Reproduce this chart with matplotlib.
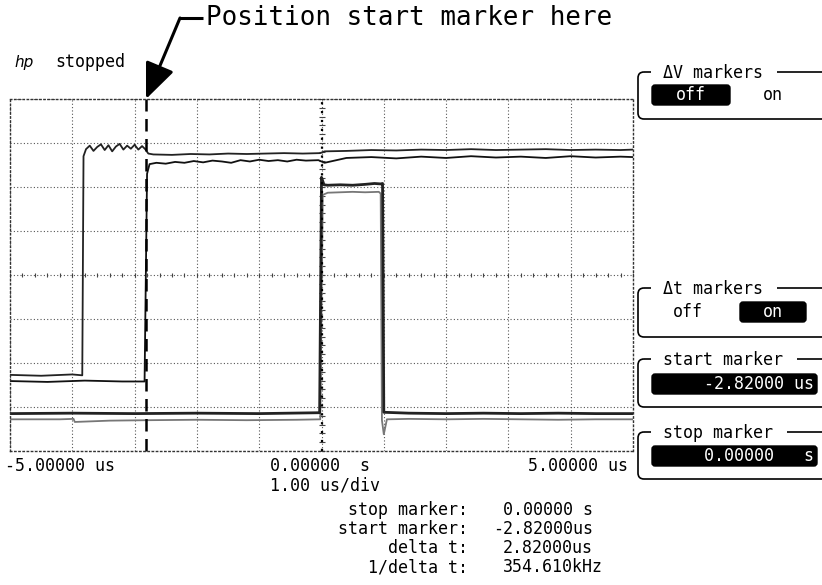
import matplotlib
matplotlib.use("Agg")
import matplotlib.pyplot as plt
import numpy as np
from matplotlib.patches import FancyBboxPatch, FancyArrowPatch

# traces: time in us, level in divisions from centre
ch1_t = [-5.00, -4.50, -4.00, -3.84, -3.82, -3.78, -3.72, -3.66, -3.60, -3.54,
         -3.48, -3.42, -3.36, -3.30, -3.24, -3.18, -3.12, -3.06, -3.00, -2.94,
         -2.88, -2.83, -2.78, -2.70, -2.40, -2.10, -1.80, -1.50, -1.20, -0.90,
         -0.60, -0.30, -0.02, 0.05, 0.40, 0.80, 1.20, 1.60, 2.00, 2.40,
         2.80, 3.20, 3.60, 4.00, 4.40, 4.80, 5.00]
ch1_v = [-2.27, -2.29, -2.26, -2.28, 2.70, 2.86, 2.94, 2.82, 2.91, 2.97,
         2.84, 2.95, 2.81, 2.92, 2.98, 2.85, 2.94, 2.87, 2.96, 2.85,
         2.93, 2.86, 2.76, 2.74, 2.73, 2.75, 2.74, 2.76, 2.75, 2.76,
         2.77, 2.76, 2.77, 2.81, 2.82, 2.84, 2.83, 2.85, 2.84, 2.86,
         2.84, 2.85, 2.86, 2.84, 2.85, 2.84, 2.85]

ch2_t = [-5.00, -4.40, -3.80, -3.20, -2.84, -2.80, -2.76, -2.65, -2.50, -2.35,
         -2.20, -2.05, -1.90, -1.75, -1.60, -1.45, -1.30, -1.15, -1.00, -0.85,
         -0.70, -0.55, -0.40, -0.25, -0.05, 0.05, 0.40, 0.80, 1.20, 1.60,
         2.00, 2.40, 2.80, 3.20, 3.60, 4.00, 4.40, 4.80, 5.00]
ch2_v = [-2.41, -2.43, -2.40, -2.42, -2.42, 2.30, 2.52, 2.55, 2.53, 2.57,
         2.55, 2.59, 2.56, 2.60, 2.58, 2.55, 2.61, 2.58, 2.62, 2.59,
         2.61, 2.58, 2.62, 2.60, 2.61, 2.55, 2.66, 2.68, 2.65, 2.69,
         2.66, 2.70, 2.67, 2.69, 2.66, 2.70, 2.67, 2.69, 2.68]

ch3_t = [-5.00, -4.00, -3.00, -2.00, -1.00, -0.03, 0.00, 0.04, 0.10, 0.30,
         0.50, 0.70, 0.85, 0.95, 0.98, 1.00, 1.40, 2.00, 2.60, 3.20,
         3.80, 4.40, 5.00]
ch3_v = [-3.15, -3.14, -3.15, -3.14, -3.15, -3.13, 2.22, 2.05, 2.04, 2.05,
         2.04, 2.06, 2.08, 2.07, 2.08, -3.12, -3.14, -3.15, -3.14, -3.15,
         -3.14, -3.15, -3.15]

ch4_t = [-5.00, -4.20, -3.98, -3.96, -3.40, -2.80, -2.00, -1.20, -0.40, -0.02,
         0.02, 0.10, 0.30, 0.50, 0.70, 0.92, 0.95, 0.97, 1.00, 1.05,
         1.40, 2.00, 2.60, 3.20, 3.80, 4.40, 5.00]
ch4_v = [-3.28, -3.28, -3.27, -3.34, -3.31, -3.30, -3.29, -3.30, -3.29, -3.28,
         1.82, 1.87, 1.88, 1.89, 1.88, 1.89, 1.85, -3.30, -3.62, -3.28,
         -3.27, -3.28, -3.27, -3.28, -3.29, -3.28, -3.28]

start_marker_us = -2.82
stop_marker_us = 0.0

x_labels = ["-5.00000 us", "0.00000  s", "5.00000 us"]
timebase = "1.00 us/div"
readout_labels = ["stop marker:", "start marker:", "delta t:", "1/delta t:"]
readout_values = ["0.00000 s", "-2.82000us", "2.82000us", "354.610kHz"]

MONO = "DejaVu Sans Mono"
FS = 12

fig = plt.figure(figsize=(8.22, 5.85), dpi=100)
fig.patch.set_facecolor("white")

# graticule
ax = fig.add_axes([10 / 822, 1 - 451 / 585, 623 / 822, 352 / 585])
ax.set_xlim(-5, 5)
ax.set_ylim(-4, 4)
ax.set_xticks(np.arange(-5, 6))
ax.set_yticks(np.arange(-4, 5))
ax.tick_params(length=0, labelbottom=False, labelleft=False)
ax.grid(True, ls=(0, (1, 2)), color="#555555", lw=0.8)
for s in ax.spines.values():
    s.set_linestyle((0, (1, 2)))
    s.set_linewidth(1.0)
    s.set_color("#333333")

# small ticks on the centre lines
ax.plot(np.arange(-5, 5.01, 0.2), np.zeros(51), ls="none", marker="|", ms=3, color="#444444", mew=0.8)
ax.plot(np.zeros(41), np.arange(-4, 4.01, 0.2), ls="none", marker="_", ms=4, color="#444444", mew=0.8)

ax.plot(ch4_t, ch4_v, color="#777777", lw=1.3)
ax.plot(ch3_t, ch3_v, color="#222222", lw=2.0)
ax.plot(ch1_t, ch1_v, color="#222222", lw=1.3)
ax.plot(ch2_t, ch2_v, color="#111111", lw=1.3)

ax.axvline(stop_marker_us, color="black", lw=1.6, ls=(0, (1, 3)))
ax.axvline(start_marker_us, color="black", lw=1.8, ls=(0, (5, 3)), clip_on=False)

# overlay in screen pixels
ov = fig.add_axes([0, 0, 1, 1], facecolor="none")
ov.set_xlim(0, 822)
ov.set_ylim(585, 0)
ov.axis("off")

ov.text(206, 18, "Position start marker here", family=MONO, fontsize=18.6, va="center", ha="left")
ov.plot([179, 203], [18, 18], color="black", lw=2.2, solid_capstyle="butt")
ov.add_patch(FancyArrowPatch((180, 18), (146, 99), arrowstyle="-|>,head_length=1.0,head_width=0.42",
                             mutation_scale=22, lw=2.2, color="black", shrinkA=0, shrinkB=0))

ov.text(14, 62, "hp", fontsize=11, fontstyle="italic", va="center", ha="left")
ov.text(55, 62, "stopped", family=MONO, fontsize=FS, va="center", ha="left")

# side panels
panels = [("\u0394V markers", 72, 119), ("\u0394t markers", 288, 337),
          ("start marker", 359, 407), ("stop marker", 432, 479)]
for title, ty, by in panels:
    ov.add_patch(FancyBboxPatch((638, ty), 230, by - ty, boxstyle="round,pad=0,rounding_size=6",
                                fc="none", ec="black", lw=1.2, clip_on=True))
    ov.plot([651, 663 + len(title) * 10 + 14], [ty, ty], color="white", lw=4, solid_capstyle="butt")
    ov.text(663, ty + 1, title, family=MONO, fontsize=FS, va="center", ha="left")


def button(x0, x1, y0, y1, label, ha="center"):
    ov.add_patch(FancyBboxPatch((x0, y0), x1 - x0, y1 - y0, boxstyle="round,pad=0,rounding_size=3",
                                fc="black", ec="black", lw=1))
    if ha == "center":
        ov.text((x0 + x1) / 2, (y0 + y1) / 2, label, family=MONO, fontsize=FS, color="white",
                va="center", ha="center")
    else:
        ov.text(x1 - 3, (y0 + y1) / 2, label, family=MONO, fontsize=FS, color="white",
                va="center", ha="right")


button(652, 730, 85, 105, "off")
ov.text(773, 95, "on", family=MONO, fontsize=FS, va="center", ha="center")
ov.text(688, 312, "off", family=MONO, fontsize=FS, va="center", ha="center")
button(740, 806, 302, 322, "on")
button(652, 817, 374, 394, "-2.82000 us", ha="right")
button(652, 817, 446, 466, "0.00000   s", ha="right")

# axis readouts
ov.text(5, 466, x_labels[0], family=MONO, fontsize=FS, va="center", ha="left")
ov.text(270, 466, x_labels[1], family=MONO, fontsize=FS, va="center", ha="left")
ov.text(628, 466, x_labels[2], family=MONO, fontsize=FS, va="center", ha="right")
ov.text(270, 486, timebase, family=MONO, fontsize=FS, va="center", ha="left")

for i, (lab, val) in enumerate(zip(readout_labels, readout_values)):
    y = 510 + i * 19
    ov.text(468, y, lab, family=MONO, fontsize=FS, va="center", ha="right")
    x_val = 493 if val.startswith("-") else 503
    ov.text(x_val, y, val, family=MONO, fontsize=FS, va="center", ha="left")

fig.savefig("out.png", dpi=100)
